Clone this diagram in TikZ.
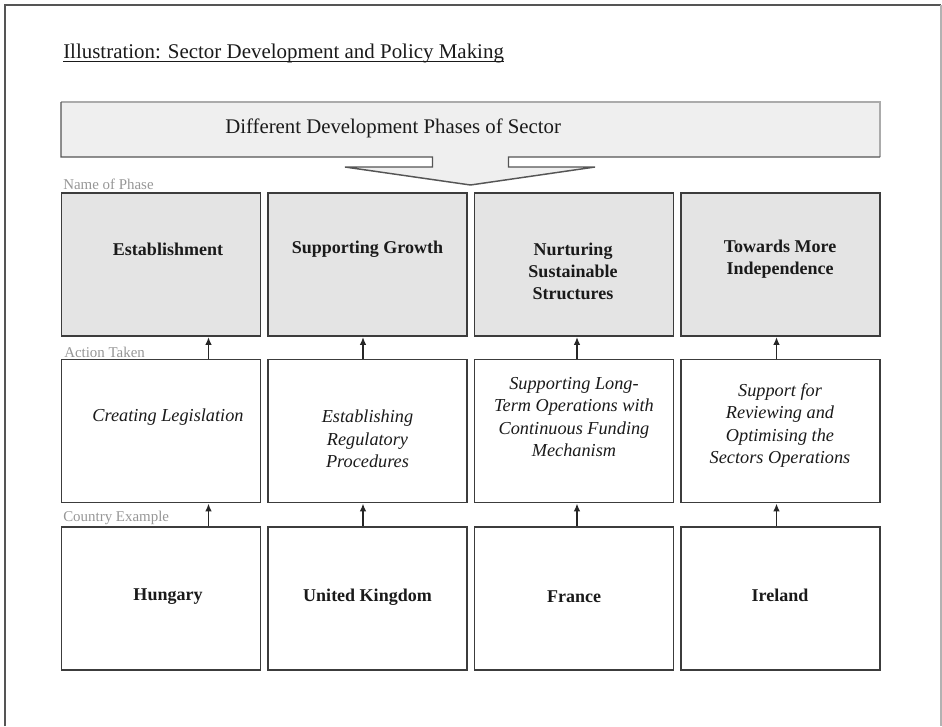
\documentclass[tikz,border=0pt]{standalone}
\usepackage{fontspec}
\setmainfont{Liberation Serif}
\usetikzlibrary{arrows.meta}
\definecolor{boxline}{HTML}{3C3C3C}
\definecolor{phasefill}{HTML}{E4E4E4}
\definecolor{topfill}{HTML}{EFEFEF}
\definecolor{lblgray}{HTML}{969696}
\definecolor{txt}{HTML}{1A1A1A}
\definecolor{lightedge}{HTML}{ABABAB}
\definecolor{darkedge}{HTML}{555555}
\begin{document}
\begin{tikzpicture}[x=0.75pt,y=-0.75pt,
  box/.style={draw=boxline, line width=1.4pt, minimum width=149.25pt, minimum height=107.25pt, inner sep=0pt},
  phasebox/.style={box, fill=phasefill},
  plainbox/.style={box, fill=white},
  ptxt/.style={font=\fontsize{13.5}{16.5}\selectfont\bfseries, align=center, inner sep=0pt, text=txt},
  itxt/.style={font=\fontsize{13.7}{16.9}\selectfont\itshape, align=center, inner sep=0pt, text=txt},
  rowlbl/.style={font=\fontsize{11.2}{13}\selectfont, text=lblgray, anchor=west, inner sep=0pt},
  arr/.style={-{Latex[length=6pt,width=5pt]}, line width=1.4pt, draw=black!85}
]
\useasboundingbox (0,0) rectangle (942,726);
% outer frame
\draw[line width=1.5pt, darkedge] (5,726) -- (5,5) -- (941,5);
\draw[line width=0.9pt, black!30] (941,5) -- (941,726);

% title
\node[anchor=base west, inner sep=0pt, font=\fontsize{15.7}{18}\selectfont, text=txt] (title) at (63,58)
  {Illustration: Sector Development and Policy Making};
\draw[line width=1.2pt, txt] ([yshift=-2.6pt]title.base west) -- ([yshift=-2.6pt]title.base east);

% header callout
\fill[topfill] (61,102) -- (880,102) -- (880,157) -- (508.5,157) -- (508.5,167) -- (595,167)
  -- (470.5,185) -- (345,167) -- (432.5,167) -- (432.5,157) -- (61,157) -- cycle;
\draw[line width=1.1pt, lightedge] (61,102) -- (880,102) -- (880,157);
\draw[line width=1.1pt, darkedge, line join=miter] (880,157) -- (508.5,157) -- (508.5,167) -- (595,167)
  -- (470.5,185) -- (345,167) -- (432.5,167) -- (432.5,157) -- (61,157) -- (61,102);
\node[anchor=west, inner sep=0pt, font=\fontsize{15.6}{18}\selectfont, text=txt] (hdr) at (225,128)
  {Different Development Phases of Sector};

% row labels
\node[rowlbl] (lblphase) at (63,184) {Name of Phase};
\node[rowlbl] (lblaction) at (64,352) {Action Taken};
\node[rowlbl] (lblcountry) at (63,518) {Country Example};

% boxes
\node[phasebox] (p1) at (161,264.5) {};
\node[phasebox] (p2) at (367.5,264.5) {};
\node[phasebox] (p3) at (574,264.5) {};
\node[phasebox] (p4) at (780.5,264.5) {};
\node[plainbox] (a1) at (161,431) {};
\node[plainbox] (a2) at (367.5,431) {};
\node[plainbox] (a3) at (574,431) {};
\node[plainbox] (a4) at (780.5,431) {};
\node[plainbox] (c1) at (161,598.5) {};
\node[plainbox] (c2) at (367.5,598.5) {};
\node[plainbox] (c3) at (574,598.5) {};
\node[plainbox] (c4) at (780.5,598.5) {};

% texts
\node[ptxt] (tp1) at (168,249) {Establishment};
\node[ptxt] (tp2) at (367.5,249) {Supporting Growth};
\node[ptxt] (tp3) at (573,271) {Nurturing\\Sustainable\\Structures};
\node[ptxt] (tp4) at (780,259.5) {Towards More\\Independence};

\node[itxt] (ta1) at (168,417) {Creating Legislation};
\node[itxt] (ta2) at (367.5,439) {Establishing\\Regulatory\\Procedures};
\node[itxt] (ta3) at (574,417) {Supporting Long-\\Term Operations with\\Continuous Funding\\Mechanism};
\node[itxt] (ta4) at (780,425.5) {Support for\\Reviewing and\\Optimising the\\Sectors Operations};

\node[ptxt] (tc1) at (168,597) {Hungary};
\node[ptxt] (tc2) at (367.5,597) {United Kingdom};
\node[ptxt] (tc3) at (574,597) {France};
\node[ptxt] (tc4) at (780,595) {Ireland};

% arrow x positions
\coordinate (x1) at (208.5,0);
\coordinate (x2) at (363,0);
\coordinate (x3) at (577,0);
\coordinate (x4) at (776.5,0);

\foreach \i in {1,2,3,4}{
  \draw[arr] (a\i.north -| x\i) -- (p\i.south -| x\i);
  \draw[arr] (c\i.north -| x\i) -- (a\i.south -| x\i);
}
\end{tikzpicture}
\end{document}
